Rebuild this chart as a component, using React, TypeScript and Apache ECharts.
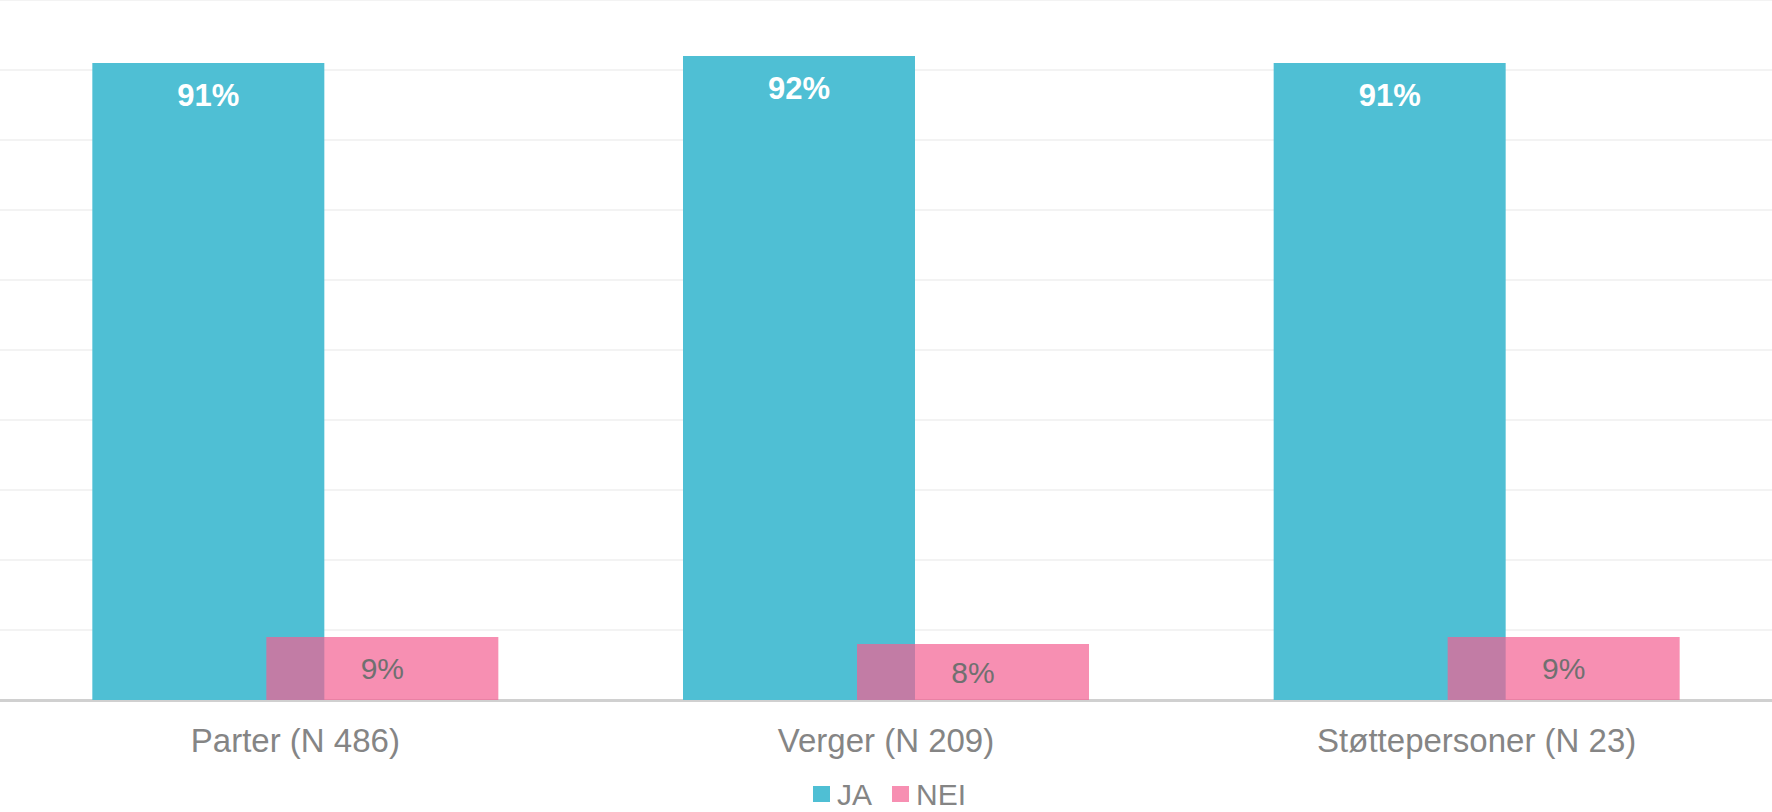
import React, { useEffect, useRef } from "react";
import * as echarts from "echarts";

const categories = ["Parter (N 486)", "Verger (N 209)", "Støttepersoner (N 23)"];
const jaValues = [91, 92, 91];
const neiValues = [9, 8, 9];
const seriesNames = ["JA", "NEI"];

const FONT = "'Liberation Sans', Arial, Helvetica, sans-serif";

export default function App() {
  const ref = useRef<HTMLDivElement>(null);

  useEffect(() => {
    document.body.style.margin = "0";
    if (!ref.current) return;
    const chart = echarts.init(ref.current, undefined, { renderer: "svg" });
    chart.setOption({
      animation: false,
      backgroundColor: "#ffffff",
      textStyle: { fontFamily: FONT },
      grid: { left: 0, right: 0, top: 0, bottom: 112, containLabel: false },
      legend: {
        data: seriesNames,
        left: 813,
        top: 779,
        padding: 0,
        itemWidth: 17,
        itemHeight: 16,
        itemGap: 20,
        icon: "rect",
        textStyle: {
          color: "#858585",
          fontSize: 30,
          lineHeight: 26,
          fontFamily: FONT,
          padding: [0, 0, 0, 2],
        },
      },
      xAxis: {
        type: "category",
        data: categories,
        axisLine: { show: true, lineStyle: { color: "#d0d0d0", width: 3 } },
        axisTick: { show: false },
        axisLabel: { color: "#858585", fontSize: 33, fontFamily: FONT, margin: 24 },
        splitLine: { show: false },
      },
      yAxis: {
        type: "value",
        min: 0,
        max: 100,
        interval: 10,
        axisLabel: { show: false },
        axisLine: { show: false },
        axisTick: { show: false },
        splitLine: { show: true, lineStyle: { color: "#f3f3f3", width: 2 } },
      },
      series: [
        {
          name: seriesNames[0],
          type: "bar",
          data: jaValues,
          barWidth: 232,
          barGap: "-25%",
          itemStyle: { color: "#4FBFD4" },
          label: {
            show: true,
            position: "insideTop",
            distance: 17,
            formatter: "{c}%",
            color: "#ffffff",
            fontWeight: "bold",
            fontSize: 31,
            fontFamily: FONT,
          },
        },
        {
          name: seriesNames[1],
          type: "bar",
          data: neiValues,
          barWidth: 232,
          barGap: "-25%",
          itemStyle: { color: "rgba(244,96,146,0.7)" },
          label: {
            show: true,
            position: "inside",
            formatter: "{c}%",
            color: "#707070",
            fontSize: 30,
            fontFamily: FONT,
          },
        },
      ],
    });
    return () => chart.dispose();
  }, []);

  return <div ref={ref} style={{ width: 1772, height: 812 }} />;
}
